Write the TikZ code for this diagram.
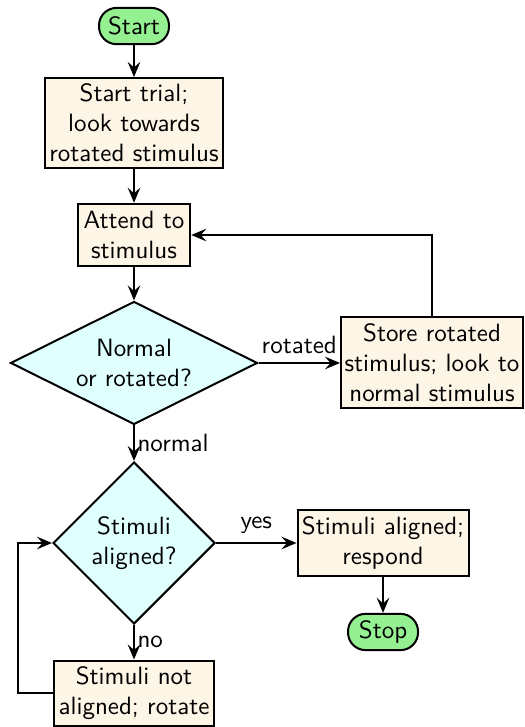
\documentclass[tikz,border=0pt]{standalone}
\usepackage{tikz}
\usetikzlibrary{shapes.geometric,arrows.meta}

\definecolor{termfill}{RGB}{148,240,144}
\definecolor{procfill}{RGB}{253,245,230}
\definecolor{decfill}{RGB}{224,255,255}

\begin{document}
\begin{tikzpicture} [
        font=\sffamily,
        thick,
        >={Stealth[length=6pt,width=5pt,inset=2.2pt]},
        term/.style={
        rectangle,draw,fill=termfill,
        rounded corners=7pt,
        minimum width=28pt,minimum height=14.5pt,
        inner sep=2pt
        },
        proc/.style n args={2}{
        rectangle,draw,fill=procfill,
        align=center,inner sep=1pt,
        minimum width=#1,minimum height=#2
        },
        dec/.style n args={3}{
        diamond,draw,fill=decfill,
        align=center,inner sep=0pt,aspect=#3,
        minimum width=#1,minimum height=#2
        }
    ]

        % 1px = 0.4pt

    \useasboundingbox (0,0) rectangle (7.367,-10.221);

    \node[term](start) at (1.884,-0.366) {Start};
    \node[proc = {71.2pt}{36pt}](trial) at (1.884,-1.729) {Start trial;\\look towards\\rotated stimulus};
    \node[proc = {45pt}{25pt}](attend) at (1.884,-3.304) {Attend to\\stimulus};
    \node[dec = {98.8pt}{49.2pt}{2}](normrot) at (1.884,-5.103) {Normal\\or rotated?};
    \node[proc = {72.8pt}{36.4pt}](store) at (6.074,-5.103) {Store rotated\\stimulus; look to\\normal stimulus};
    \node[dec = {64.8pt}{64.8pt}{1}](aligned) at (1.884,-7.634) {Stimuli\\aligned?};
    \node[proc = {68.4pt}{26.8pt}](respond) at (5.385,-7.634) {Stimuli aligned;\\respond};
    \node[term](stop) at (5.385,-8.885) {Stop};
    \node[proc = {64pt}{26pt}](rotate) at (1.884,-9.743) {Stimuli not\\aligned; rotate};

    \draw[->] (start) -- (trial);
    \draw[->] (trial) -- (attend);
    \draw[->] (attend) -- (normrot);
    \draw[->] (normrot) -- node[above] {rotated} (store);
    \draw[->] (store) |- (attend);
    \draw[->] (normrot) -- node[right,inner sep=1pt] {normal} (aligned);
    \draw[->] (aligned) -- node[above] {yes} (respond);
    \draw[->] (respond) -- (stop);
    \draw[->] (aligned) -- node[right,inner sep=1pt] {no} (rotate);
    \draw[->] (rotate.west) -- ++(-0.49,0) |- (aligned.west);

    \end{tikzpicture}
\end{document}
